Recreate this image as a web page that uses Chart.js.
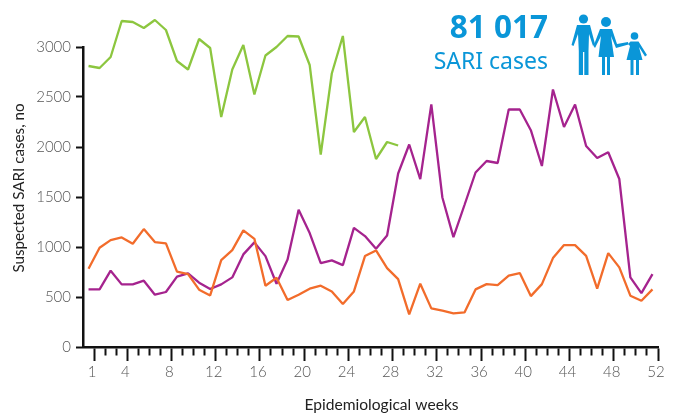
<!DOCTYPE html>
<html>
<head>
<meta charset="utf-8">
<title>SARI cases</title>
<script src="https://cdn.jsdelivr.net/npm/chart.js@4"></script>
<style>
  body { margin: 0; background: #fff; }
  #wrap { position: relative; width: 677px; height: 414px; overflow: hidden; }
  .big { position: absolute; right: 129px; color: #0a96d8; font-family: "Noto Sans", sans-serif; white-space: nowrap; }
  #count { top: 4px; font-size: 31.5px; font-weight: 700; line-height: 44px; }
  #what { top: 42px; font-size: 23px; font-weight: 400; line-height: 36px; }
  svg { position: absolute; left: 0; top: 0; }
</style>
</head>
<body>
<div id="wrap">
  <canvas id="myChart" width="677" height="414"></canvas>
  <div class="big" id="count">81 017</div>
  <div class="big" id="what">SARI cases</div>
  <svg width="677" height="414" fill="#0a96d8" stroke="none">
    <circle cx="583.5" cy="19" r="4.6"/>
    <path d="M577 25 L590 25 L595 44 L593 46 L589 34 L588.5 51 L588.5 75 L584.3 75 L584.3 52 L583 52 L583 75 L578.8 75 L578.8 51 L578 34 L573.5 46 L571.5 45 Z"/>
    <circle cx="606" cy="22" r="5"/>
    <path d="M600 29 L612 29 L617 44 L628 42 L628.5 44.5 L616 48 L611 36 L614 57 L610 57 L610 75 L607 75 L607 57 L605 57 L605 75 L602 75 L602 57 L598.5 57 L601 36 L595 48 L593.5 46 Z"/>
    <circle cx="634.5" cy="36" r="3.8"/>
    <path d="M630.5 41.5 L638.5 41.5 L647 55 L645 56.5 L639 47 L642.5 60 L639 60 L639 75 L636 75 L636 60 L633.5 60 L633.5 75 L630.5 75 L630.5 60 L626.5 60 L630 46 L628 44 Z"/>
  </svg>
</div>
<script>
var weeks = [1,2,3,4,5,6,7,8,9,10,11,12,13,14,15,16,17,18,19,20,21,22,23,24,25,26,
  27,28,29,30,31,32,33,34,35,36,37,38,39,40,41,42,43,44,45,46,47,48,49,50,51,52];
var labelledWeeks = [1,4,8,12,16,20,24,28,32,36,40,44,48,52];

var greenValues = [2810,2790,2900,3260,3250,3190,3270,3170,2860,2775,3080,2990,2300,2775,3020,2525,
  2915,3000,3110,3105,2820,1925,2735,3110,2150,2300,1880,2050,2015];
var purpleValues = [576,576,763,626,626,663,523,550,703,736,643,580,626,696,926,1046,
  909,633,876,1372,1139,839,866,819,1192,1109,982,1115,1735,2025,1678,2427,1495,1099,1420,1745,
  1860,1840,2375,2375,2168,1810,2575,2200,2425,2010,1890,1948,1680,696,539,729];
var orangeValues = [783,992,1069,1096,1032,1179,1049,1036,753,729,573,516,869,969,1166,1082,
  613,693,470,523,583,613,556,430,556,909,966,789,679,326,633,386,363,336,346,576,
  629,619,713,739,509,629,889,1019,1019,912,583,939,796,513,463,576];

var toPoints = function (values) {
  return values.map(function (v, i) { return { x: weeks[i], y: v }; });
};

var axisColor = "#111111";
var tickFont = { family: "Lato", size: 15, weight: "300" };

// axis titles sit off-centre in the original, so they are placed by hand
var axisTitles = {
  id: "axisTitles",
  afterDraw: function (chart) {
    var c = chart.ctx;
    c.save();
    c.fillStyle = "#222222";
    c.textAlign = "center";
    c.textBaseline = "middle";
    c.font = "15.6px Lato";
    c.fillText("Epidemiological weeks", 381.5, 404.5);
    c.translate(19, 188);
    c.rotate(-Math.PI / 2);
    c.font = "15.2px Lato";
    c.fillText("Suspected SARI cases, no", 0, 0);
    c.restore();
  }
};

var ctx = document.getElementById("myChart");
var myChart = new Chart(ctx, {
  type: "line",
  plugins: [axisTitles],
  data: {
    datasets: [{
      data: toPoints(orangeValues),
      borderColor: "#f26c2b"
    }, {
      data: toPoints(purpleValues),
      borderColor: "#a5238e"
    }, {
      data: toPoints(greenValues),
      borderColor: "#8cc63f"
    }]
  },
  options: {
    responsive: false,
    animation: false,
    layout: { padding: { top: 47, right: 19, left: 0, bottom: 0 } },
    clip: false,
    elements: {
      line: { borderWidth: 2.3, tension: 0, fill: false, borderJoinStyle: "bevel" },
      point: { radius: 0 }
    },
    plugins: { legend: { display: false }, tooltip: { enabled: false } },
    scales: {
      x: {
        type: "linear",
        min: 0.5,
        max: 52.5,
        afterBuildTicks: function (scale) {
          scale.ticks = weeks.map(function (w) { return { value: w + 0.5 }; });
        },
        afterFit: function (scale) { scale.height = 67; },
        border: { color: axisColor, width: 2.5 },
        grid: {
          drawOnChartArea: false,
          tickLength: 14,
          tickWidth: 2,
          tickColor: axisColor,
          tickBorderDash: function (c) {
            return labelledWeeks.indexOf(c.tick.value - 0.5) >= 0 ? [] : [7, 20];
          }
        },
        ticks: {
          autoSkip: false,
          maxRotation: 0,
          padding: 2,
          labelOffset: -2,
          color: "#555555",
          font: tickFont,
          callback: function (v) {
            var w = v - 0.5;
            return labelledWeeks.indexOf(w) >= 0 ? String(w) : "";
          }
        }
      },
      y: {
        min: 0,
        max: 3000,
        afterFit: function (scale) { scale.width = 83; },
        border: { color: axisColor, width: 2.5 },
        grid: { drawOnChartArea: false, tickLength: 7, tickWidth: 2, tickColor: axisColor },
        ticks: {
          stepSize: 500,
          padding: 5,
          color: "#555555",
          font: tickFont,
          callback: function (v) { return String(v); }
        }
      }
    }
  }
});
</script>
</body>
</html>
